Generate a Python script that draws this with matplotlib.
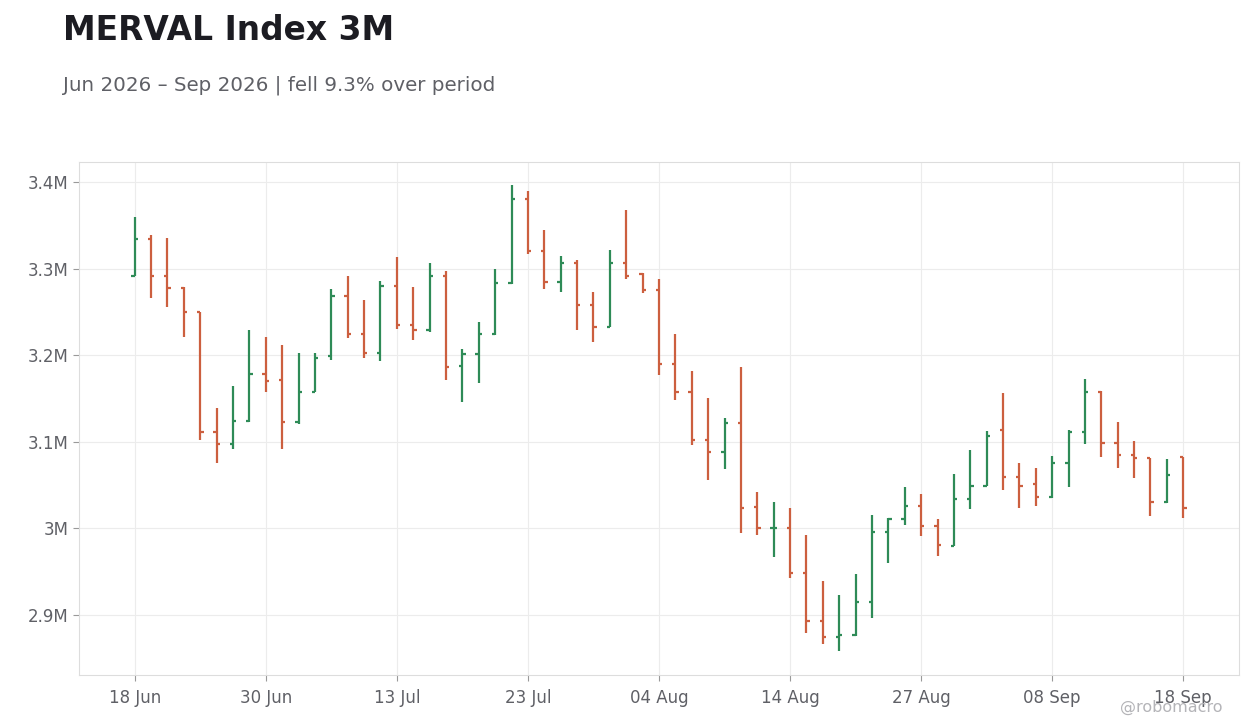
import numpy as np
import matplotlib
matplotlib.use("Agg")
import matplotlib.pyplot as plt
from matplotlib.ticker import FuncFormatter

# daily OHLC, values in millions
opens = [3.292, 3.334, 3.292, 3.278, 3.250, 3.111, 3.097, 3.124, 3.178, 3.171,
         3.123, 3.158, 3.199, 3.268, 3.225, 3.203, 3.280, 3.235, 3.229, 3.292,
         3.188, 3.201, 3.224, 3.283, 3.380, 3.320, 3.284, 3.306, 3.258, 3.233,
         3.306, 3.294, 3.275, 3.190, 3.157, 3.102, 3.088, 3.122, 3.025, 3.000,
         3.001, 2.948, 2.893, 2.875, 2.877, 2.915, 2.996, 3.011, 3.026, 3.003,
         2.980, 3.034, 3.049, 3.114, 3.059, 3.051, 3.036, 3.076, 3.111, 3.158,
         3.099, 3.085, 3.081, 3.030, 3.083]
highs = [3.359, 3.339, 3.335, 3.279, 3.250, 3.139, 3.164, 3.229, 3.221, 3.212,
         3.202, 3.202, 3.276, 3.292, 3.264, 3.286, 3.313, 3.279, 3.306, 3.297,
         3.207, 3.238, 3.300, 3.396, 3.390, 3.344, 3.314, 3.310, 3.273, 3.321,
         3.368, 3.295, 3.288, 3.224, 3.182, 3.150, 3.128, 3.186, 3.042, 3.031,
         3.024, 2.992, 2.939, 2.923, 2.947, 3.016, 3.012, 3.048, 3.040, 3.011,
         3.063, 3.091, 3.113, 3.156, 3.076, 3.070, 3.084, 3.114, 3.172, 3.159,
         3.123, 3.101, 3.081, 3.080, 3.083]
lows = [3.292, 3.266, 3.256, 3.221, 3.102, 3.075, 3.092, 3.123, 3.157, 3.092,
        3.121, 3.158, 3.195, 3.220, 3.197, 3.193, 3.230, 3.218, 3.227, 3.171,
        3.146, 3.168, 3.223, 3.282, 3.317, 3.276, 3.273, 3.229, 3.215, 3.233,
        3.288, 3.272, 3.177, 3.148, 3.096, 3.056, 3.068, 2.995, 2.992, 2.967,
        2.943, 2.879, 2.866, 2.858, 2.876, 2.897, 2.960, 3.004, 2.991, 2.968,
        2.980, 3.022, 3.049, 3.044, 3.023, 3.026, 3.035, 3.048, 3.097, 3.083,
        3.070, 3.058, 3.014, 3.029, 3.012]
closes = [3.334, 3.292, 3.278, 3.250, 3.111, 3.097, 3.124, 3.178, 3.170, 3.123,
          3.158, 3.197, 3.268, 3.225, 3.203, 3.280, 3.235, 3.229, 3.292, 3.186,
          3.201, 3.224, 3.283, 3.380, 3.320, 3.284, 3.306, 3.258, 3.233, 3.306,
          3.292, 3.275, 3.190, 3.157, 3.102, 3.088, 3.122, 3.023, 3.000, 3.001,
          2.948, 2.893, 2.875, 2.877, 2.915, 2.996, 3.011, 3.026, 3.003, 2.981,
          3.034, 3.049, 3.107, 3.059, 3.049, 3.036, 3.076, 3.111, 3.158, 3.099,
          3.085, 3.081, 3.030, 3.062, 3.023]

tick_pos = [0, 8, 16, 24, 32, 40, 48, 56, 64]
tick_labels = ["18 Jun", "30 Jun", "13 Jul", "23 Jul", "04 Aug",
               "14 Aug", "27 Aug", "08 Sep", "18 Sep"]

UP = "#2e8b57"
DOWN = "#cc5f3f"
TEXT = "#5f6066"

fig = plt.figure(figsize=(12.6, 7.28), dpi=100)
ax = fig.add_axes([0.0627, 0.0728, 0.9206, 0.7047])

x = np.arange(len(opens))
o = np.array(opens) * 1e6
h = np.array(highs) * 1e6
l = np.array(lows) * 1e6
c = np.array(closes) * 1e6
colors = [UP if cc >= oo else DOWN for oo, cc in zip(o, c)]

tw = 0.2
ax.vlines(x, l, h, colors=colors, linewidth=1.6, zorder=3)
ax.hlines(o, x - tw, x, colors=colors, linewidth=1.6, zorder=3)
ax.hlines(c, x, x + tw, colors=colors, linewidth=1.6, zorder=3)

ax.set_xlim(-3.4, 67.4)
ax.set_ylim(2.8307e6, 3.4231e6)
ax.set_xticks(tick_pos)
ax.set_xticklabels(tick_labels)
ax.set_yticks([2.9e6, 3.0e6, 3.1e6, 3.2e6, 3.3e6, 3.4e6])
ax.yaxis.set_major_formatter(FuncFormatter(
    lambda v, p: f"{v/1e6:.1f}M".replace(".0M", "M")))

ax.grid(True, color="#ececec", linewidth=0.8)
ax.set_axisbelow(True)
for s in ax.spines.values():
    s.set_color("#dddddd")
    s.set_linewidth(0.8)
ax.tick_params(colors=TEXT, labelsize=12, length=4, width=0.8)
ax.tick_params(axis="x", pad=6)
for t in ax.get_xticklabels() + ax.get_yticklabels():
    t.set_color(TEXT)
ax.tick_params(axis="both", color="#999999")

fig.text(0.05, 0.945, "MERVAL Index 3M", fontsize=23.7, fontweight="bold",
         color="#1c1c22", va="baseline")
fig.text(0.05, 0.876, "Jun 2026 \u2013 Sep 2026 | fell 9.3% over period",
         fontsize=14.35, color=TEXT, va="baseline")
fig.text(0.97, 0.022, "@robomacro", fontsize=11.5, color="#b4b4b8",
         ha="right", va="baseline")

fig.savefig("out.png", dpi=100)
